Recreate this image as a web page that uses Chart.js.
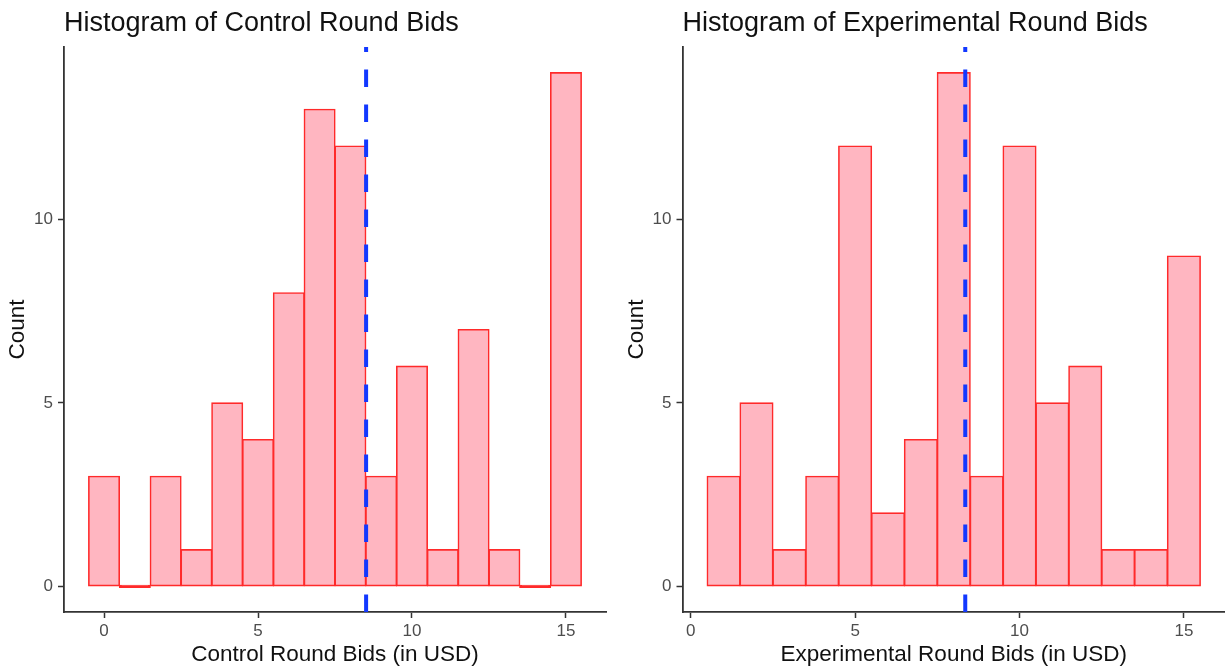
<!DOCTYPE html>
<html>
<head>
<meta charset="utf-8">
<title>Histograms of Round Bids</title>
<script src="https://cdn.jsdelivr.net/npm/chart.js@4/dist/chart.umd.min.js"></script>
<style>
  html, body { margin: 0; padding: 0; background: #ffffff; }
  #wrap { position: relative; width: 1225px; height: 669px; overflow: hidden; }
  #wrap canvas { position: absolute; top: 0; }
</style>
</head>
<body>
<div id="wrap">
  <canvas id="control" width="612" height="669" style="left:0px"></canvas>
  <canvas id="experimental" width="613" height="669" style="left:612px"></canvas>
</div>
<script>
// Bid histograms: one bin per whole dollar, counts per bin.
const controlBins = [0, 1, 2, 3, 4, 5, 6, 7, 8, 9, 10, 11, 12, 13, 14, 15];
const controlCounts = [3, 0, 3, 1, 5, 4, 8, 13, 12, 3, 6, 1, 7, 1, 0, 14];
const controlMean = 8.51;

const experimentalBins = [1, 2, 3, 4, 5, 6, 7, 8, 9, 10, 11, 12, 13, 14, 15];
const experimentalCounts = [3, 5, 1, 3, 12, 2, 4, 14, 3, 12, 5, 6, 1, 1, 9];
const experimentalMean = 8.35;

// Axis ticks and ranges
const xTicks = [0, 5, 10, 15];
const yTicks = [0, 5, 10];
const yRange = [-0.7, 14.7];
const controlXRange = [-1.3, 16.3];
const experimentalXRange = [-0.25, 16.25];

const FONT = "'Liberation Sans', Arial, Helvetica, sans-serif";
const PINK = '#ffb6c1';
const RED = '#ff2a2a';
const BLUE = '#1238ff';
const AXIS = '#333333';
const TICK_TEXT = '#4d4d4d';

Chart.defaults.font.family = FONT;
Chart.defaults.animation = false;

function makeHistogram(id, cfg) {
  const bars = cfg.bins.map((b, i) => ({ x: b, y: cfg.counts[i] }));
  return new Chart(document.getElementById(id), {
    type: 'bar',
    data: {
      datasets: [
        {
          type: 'line',
          data: [{ x: cfg.mean, y: yRange[0] }, { x: cfg.mean, y: yRange[1] }],
          borderColor: BLUE,
          borderWidth: 4,
          borderDash: [17.5, 17.5],
          borderCapStyle: 'butt',
          pointRadius: 0,
          fill: false,
          order: 0
        },
        {
          type: 'bar',
          data: bars,
          backgroundColor: (c) => (c.raw && c.raw.y === 0 ? RED : PINK),
          borderColor: RED,
          borderWidth: 1.6,
          inflateAmount: 0.6,
          borderSkipped: false,
          minBarLength: 2,
          barPercentage: 1,
          categoryPercentage: 1,
          order: 1
        }
      ]
    },
    options: {
      responsive: false,
      animation: false,
      events: [],
      layout: { padding: { left: 0, right: cfg.rightPad, top: 0, bottom: 0 } },
      plugins: {
        legend: { display: false },
        tooltip: { enabled: false },
        title: {
          display: true,
          text: cfg.title,
          align: 'start',
          fullSize: false,
          color: '#111111',
          font: { family: FONT, size: 27, weight: 'normal' },
          padding: { top: 7, bottom: 7.6 }
        }
      },
      scales: {
        x: {
          type: 'linear',
          min: cfg.xRange[0],
          max: cfg.xRange[1],
          offset: false,
          afterBuildTicks: (s) => { s.ticks = xTicks.map((v) => ({ value: v })); },
          afterFit: (s) => { s.height = 57; },
          grid: {
            display: true, offset: false, drawOnChartArea: false, drawTicks: true,
            tickLength: 6, tickWidth: 1.5, tickColor: AXIS
          },
          border: { display: true, color: AXIS, width: 1.8 },
          ticks: {
            autoSkip: false, maxRotation: 0, padding: 3, color: TICK_TEXT,
            font: { family: FONT, size: 17 }
          },
          title: {
            display: true, text: cfg.xTitle, color: '#111111',
            font: { family: FONT, size: 22.5 }, padding: { top: 0, bottom: 1 }
          }
        },
        y: {
          type: 'linear',
          min: yRange[0],
          max: yRange[1],
          afterBuildTicks: (s) => { s.ticks = yTicks.map((v) => ({ value: v })); },
          afterFit: (s) => { s.width = cfg.yAxisWidth; },
          grid: {
            display: true, drawOnChartArea: false, drawTicks: true,
            tickLength: 6, tickWidth: 1.5, tickColor: AXIS
          },
          border: { display: true, color: AXIS, width: 1.8 },
          ticks: { padding: 5, color: TICK_TEXT, font: { family: FONT, size: 17 } },
          title: {
            display: true, text: 'Count', color: '#111111',
            font: { family: FONT, size: 22.5 }, padding: { top: cfg.yTitlePad, bottom: 0 }
          }
        }
      }
    }
  });
}

makeHistogram('control', {
  bins: controlBins,
  counts: controlCounts,
  mean: controlMean,
  xRange: controlXRange,
  title: 'Histogram of Control Round Bids',
  xTitle: 'Control Round Bids (in USD)',
  yAxisWidth: 64,
  yTitlePad: 4,
  rightPad: 6
});

makeHistogram('experimental', {
  bins: experimentalBins,
  counts: experimentalCounts,
  mean: experimentalMean,
  xRange: experimentalXRange,
  title: 'Histogram of Experimental Round Bids',
  xTitle: 'Experimental Round Bids (in USD)',
  yAxisWidth: 70.5,
  yTitlePad: 11,
  rightPad: 0
});
</script>
</body>
</html>
